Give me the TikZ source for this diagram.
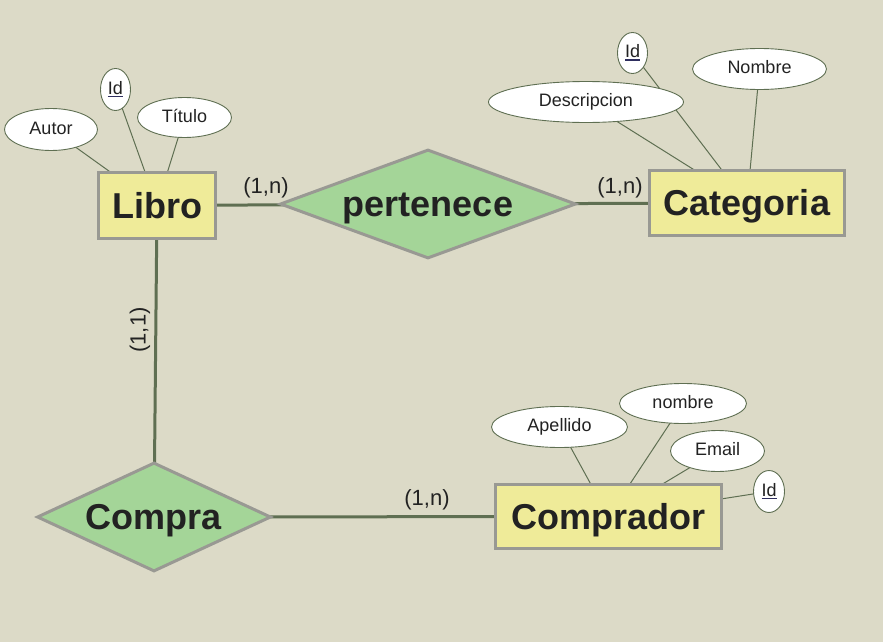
\documentclass[tikz,border=0pt]{standalone}
\usepackage{fontspec}
\setmainfont{Liberation Sans}
\usetikzlibrary{shapes.geometric,backgrounds}
\definecolor{bg}{HTML}{DCDAC7}
\definecolor{entfill}{HTML}{EFEB99}
\definecolor{relfill}{HTML}{A4D598}
\definecolor{frame}{HTML}{999993}
\definecolor{conn}{HTML}{5F6F52}
\definecolor{ink}{HTML}{222222}
\definecolor{uline}{HTML}{2E2E5E}
\newcommand{\keyattr}[1]{\setbox0=\hbox{#1}\rlap{\textcolor{uline}{\rule[-3.2pt]{\wd0}{1.7pt}}}\box0}
\begin{document}
\begin{tikzpicture}[x=1pt,y=-1pt,
  entity/.style={rectangle,draw=frame,line width=3pt,fill=entfill,inner sep=0pt,text=ink,
    text height=26pt,text depth=1pt,font=\fontsize{36}{40}\selectfont\bfseries},
  relation/.style={diamond,aspect=2.7,draw=frame,line width=3pt,fill=relfill,inner sep=0pt,text=ink,
    text height=26pt,text depth=1pt,font=\fontsize{36}{40}\selectfont\bfseries},
  attr/.style={ellipse,draw=conn,line width=0.9pt,fill=white,inner sep=0pt,text=ink,
    text height=13pt,text depth=4pt,font=\fontsize{18}{20}\selectfont},
  card/.style={inner sep=0pt,text=ink,font=\fontsize{22}{24}\selectfont},
  relline/.style={draw=conn,line width=3pt},
  attrline/.style={draw=conn,line width=1pt}]
\useasboundingbox (0,0) rectangle (883,642);
% entities
\node[entity,minimum width=117pt,minimum height=66pt] (libro) at (157,205.5) {Libro};
\node[entity,minimum width=195pt,minimum height=65pt] (categoria) at (747,203) {Categoria};
\node[entity,minimum width=226pt,minimum height=64pt] (comprador) at (608.5,516.5) {Comprador};
% relations
\node[relation,minimum width=296pt,minimum height=109pt] (pertenece) at (428,204) {pertenece};
\node[relation,minimum width=234pt,minimum height=109pt] (compra) at (154,517) {Compra};
% attributes
\node[attr,minimum width=93pt,minimum height=42pt] (autor) at (51,129.5) {Autor};
\node[attr,minimum width=30pt,minimum height=42pt] (id1) at (115.5,89.5) {\keyattr{Id}};
\node[attr,minimum width=94pt,minimum height=40pt] (titulo) at (184.5,117.5) {Título};
\node[attr,minimum width=30pt,minimum height=41pt] (id2) at (632.5,53) {\keyattr{Id}};
\node[attr,minimum width=134pt,minimum height=41pt] (nombre1) at (759.5,69) {Nombre};
\node[attr,minimum width=195pt,minimum height=41pt] (descr) at (586,102) {Descripcion};
\node[attr,minimum width=136pt,minimum height=41pt] (apellido) at (559.5,427) {Apellido};
\node[attr,minimum width=127pt,minimum height=40pt] (nombre2) at (683,403.5) {nombre};
\node[attr,minimum width=94pt,minimum height=41pt] (email) at (717.5,451) {Email};
\node[attr,minimum width=31pt,minimum height=42pt] (id3) at (769,491.5) {\keyattr{Id}};
% cardinalities
\node[card] (c1) at (266,188) {(1,n)};
\node[card] (c2) at (620,188) {(1,n)};
\node[card] (c3) at (427,500) {(1,n)};
\node[card,rotate=90] (c4) at (140,330) {(1,1)};
% connectors behind nodes
\begin{scope}[on background layer]
\fill[bg] (0,0) rectangle (883,642);
\draw[relline] (libro.center) -- (pertenece.center);
\draw[relline] (pertenece.center) -- (categoria.center);
\draw[relline] (libro.center) -- (compra.center);
\draw[relline] (compra.center) -- (comprador.center);
\draw[attrline] (autor.center) -- (libro.center);
\draw[attrline] (id1.center) -- (libro.center);
\draw[attrline] (titulo.center) -- (libro.center);
\draw[attrline] (descr.center) -- (categoria.center);
\draw[attrline] (id2.center) -- (categoria.center);
\draw[attrline] (nombre1.center) -- (categoria.center);
\draw[attrline] (apellido.center) -- (comprador.center);
\draw[attrline] (nombre2.center) -- (comprador.center);
\draw[attrline] (email.center) -- (comprador.center);
\draw[attrline] (id3.center) -- (comprador.center);
\end{scope}
\end{tikzpicture}
\end{document}
